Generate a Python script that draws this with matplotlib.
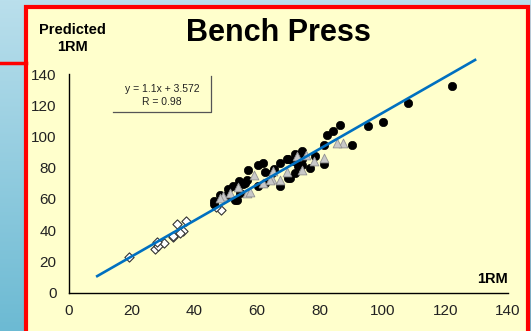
import numpy as np
import matplotlib
matplotlib.use("Agg")
import matplotlib.pyplot as plt
from matplotlib.patches import Rectangle
from matplotlib.lines import Line2D

plt.rcParams['font.family'] = ['Liberation Sans', 'DejaVu Sans']

# ---- data ----
circle_x = [122.0, 108.2, 100.2, 95.2, 86.4, 90.2, 84.3, 82.3, 81.4, 81.4, 78.4, 74.3,
            72.6, 71.5, 73.6, 74.2, 72.1, 70.5, 72.1, 67.3, 69.9, 67.3, 69.9, 62.0,
            60.4, 57.2, 62.5, 64.6, 62.5, 60.4, 56.7, 55.6, 54.3, 52.4, 54.5, 52.9,
            50.8, 50.3, 46.2, 46.2, 69.4, 74.2, 73.0, 56.1, 53.5, 48.2, 65.5, 77.0]
circle_y = [132.4, 121.1, 109.5, 106.9, 107.3, 94.3, 103.5, 100.7, 94.3, 82.5, 87.4, 90.6,
            86.3, 84.0, 83.0, 82.0, 76.3, 73.5, 88.5, 82.7, 85.3, 68.5, 73.5, 83.1,
            81.4, 78.4, 77.1, 76.7, 70.3, 68.1, 72.4, 69.2, 71.3, 68.1, 63.8, 59.5,
            66.0, 62.7, 58.4, 57.0, 85.7, 85.3, 81.0, 70.3, 59.5, 62.7, 79.0, 80.0]

tri_x = [87.3, 85.4, 81.4, 75.6, 74.2, 67.3, 59.1, 64.6, 62.0, 56.7, 54.0, 51.3,
         49.2, 48.2, 65.2, 72.6, 57.7, 64.1, 69.5, 78.0]
tri_y = [95.6, 96.0, 86.3, 87.8, 78.2, 72.4, 75.6, 72.8, 70.3, 63.8, 67.4, 63.8,
         61.6, 60.6, 77.7, 87.4, 64.2, 72.4, 77.0, 84.0]

dia_x = [19.1, 27.4, 28.5, 30.3, 28.0, 33.3, 33.3, 34.3, 37.3, 36.5, 35.4, 48.4, 47.0]
dia_y = [23.0, 27.8, 29.5, 32.0, 32.4, 35.5, 36.5, 43.6, 45.8, 39.1, 38.1, 52.8, 55.0]

line_x = [9.0, 129.5]
line_y = [10.5, 149.0]

x_ticks = [0, 20, 40, 60, 80, 100, 120, 140]
y_ticks = [0, 20, 40, 60, 80, 100, 120, 140]

W, H = 531, 331
fig = plt.figure(figsize=(W / 100, H / 100), dpi=100)
fig.patch.set_facecolor('#B7DEEC')

def fx(px):
    return px / W

def fy(py):
    return 1 - py / H

# gradient background on left
bg = fig.add_axes([0, 0, 1, 1], zorder=-10)
bg.axis('off')
grad = np.linspace(0, 1, 256).reshape(-1, 1)
from matplotlib.colors import LinearSegmentedColormap
cmap = LinearSegmentedColormap.from_list('bluegrad', ['#BADFEC', '#6CBAD3'])
bg.imshow(grad, aspect='auto', cmap=cmap, extent=[0, 1, 0, 1], origin='upper')
bg.set_xlim(0, 1)
bg.set_ylim(0, 1)

# red framed panel
panel = Rectangle((fx(26), fy(H + 10)), fx(528) - fx(26), fy(7) - fy(H + 10),
                  transform=fig.transFigure, facecolor='#FFFFCC', edgecolor='#FF0000',
                  linewidth=3.0, zorder=-5)
fig.patches.append(panel)
fig.add_artist(Line2D([0, fx(26)], [fy(63), fy(63)], transform=fig.transFigure,
                      color='#FF0000', linewidth=2.5, zorder=-4))

ax = fig.add_axes([fx(69), fy(292.5), fx(508) - fx(69), fy(74) - fy(292.5)])
ax.set_facecolor('none')
ax.set_xlim(0, 140)
ax.set_ylim(0, 140)
for s in ['top', 'right']:
    ax.spines[s].set_visible(False)
for s in ['left', 'bottom']:
    ax.spines[s].set_color('black')
    ax.spines[s].set_linewidth(1.0)
ax.set_xticks(x_ticks)
ax.set_yticks(y_ticks)
ax.tick_params(length=0, labelsize=11, labelcolor='#222222')
ax.tick_params(axis='y', pad=9)
ax.tick_params(axis='x', pad=8)

ax.scatter(dia_x, dia_y, marker='D', s=22, facecolor='white', edgecolor='#333333',
           linewidths=0.8, zorder=3)
ax.scatter(circle_x, circle_y, marker='o', s=36, facecolor='black', edgecolor='black',
           linewidths=0.5, zorder=4)
ax.scatter(tri_x, tri_y, marker='^', s=40, facecolor='#C8C8C8', edgecolor='#909090',
           linewidths=0.6, zorder=5)
ax.plot(line_x, line_y, color='#0070C0', linewidth=1.9, zorder=6, clip_on=False)

# texts
fig.text(fx(278), fy(33), 'Bench Press', ha='center', va='center', fontsize=22,
         fontweight='bold', color='black')
fig.text(fx(72), fy(30), 'Predicted', ha='center', va='center', fontsize=10.5,
         fontweight='bold', color='black')
fig.text(fx(72), fy(47), '1RM', ha='center', va='center', fontsize=10.5,
         fontweight='bold', color='black')
fig.text(fx(508), fy(279), '1RM', ha='right', va='center', fontsize=10.5,
         fontweight='bold', color='black')

fig.text(fx(162), fy(89), 'y = 1.1x + 3.572', ha='center', va='center', fontsize=7.5,
         color='#222222')
fig.text(fx(162), fy(102), 'R = 0.98', ha='center', va='center', fontsize=7.5,
         color='#222222')
fig.add_artist(Line2D([fx(113), fx(211), fx(211)], [fy(112), fy(112), fy(76)],
                      transform=fig.transFigure, color='#555555', linewidth=0.9))

fig.savefig('out.png', dpi=100, facecolor=fig.get_facecolor())
